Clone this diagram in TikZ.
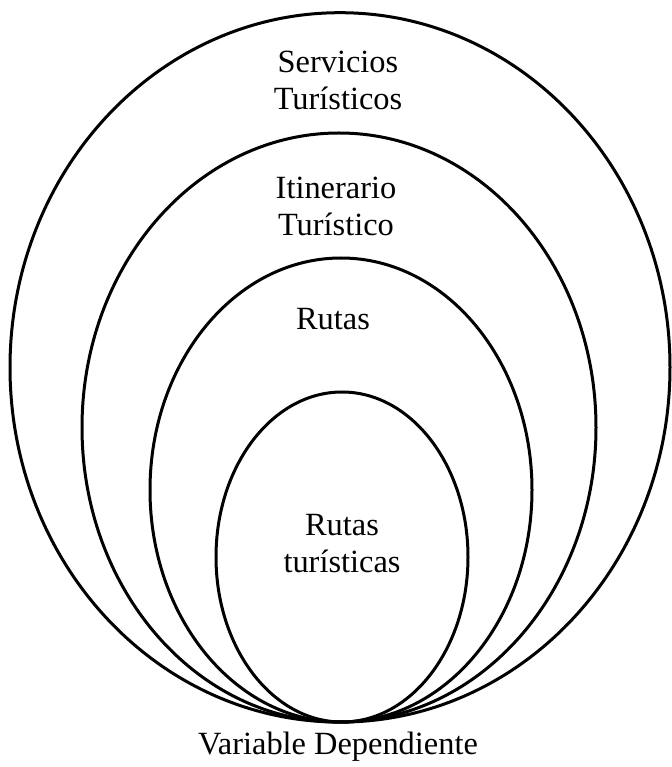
\documentclass[tikz,border=0pt]{standalone}
\usepackage{fontspec}
\setmainfont{Liberation Serif}
\newfontfamily\tnrfont{Liberation Serif}
\usetikzlibrary{positioning}
\tikzset{ring/.style = {draw, line width = 1.5pt}}
\tikzset{lbl/.style = {align = center, inner sep = 0,
                       font = \tnrfont\fontsize{16.2}{18.5}\selectfont}}

\begin{document}
\begin{tikzpicture}[x = 0.5pt, y = 0.5pt]
      \useasboundingbox (0, 0) rectangle (672, 767);
      \draw [ring] (340, 399.6) ellipse [x radius=330, y radius=354.7];
      \draw [ring] (339, 339.5) ellipse [x radius=257, y radius=294.5];
      \draw [ring] (341, 277) ellipse [x radius=191, y radius=232];
      \draw [ring] (342, 210) ellipse [x radius=126, y radius=165];

      \node [lbl] (serv) at (338, 687) {Servicios\\Turísticos};
      \node [lbl] (itin) at (336, 561) {Itinerario\\Turístico};
      \node [lbl] (rutas) at (333, 448) {Rutas};
      \node [lbl] (rtur) at (342, 223) {Rutas\\turísticas};
      \node [lbl] (var) at (338, 20) {Variable Dependiente};
    \end{tikzpicture}
\end{document}
